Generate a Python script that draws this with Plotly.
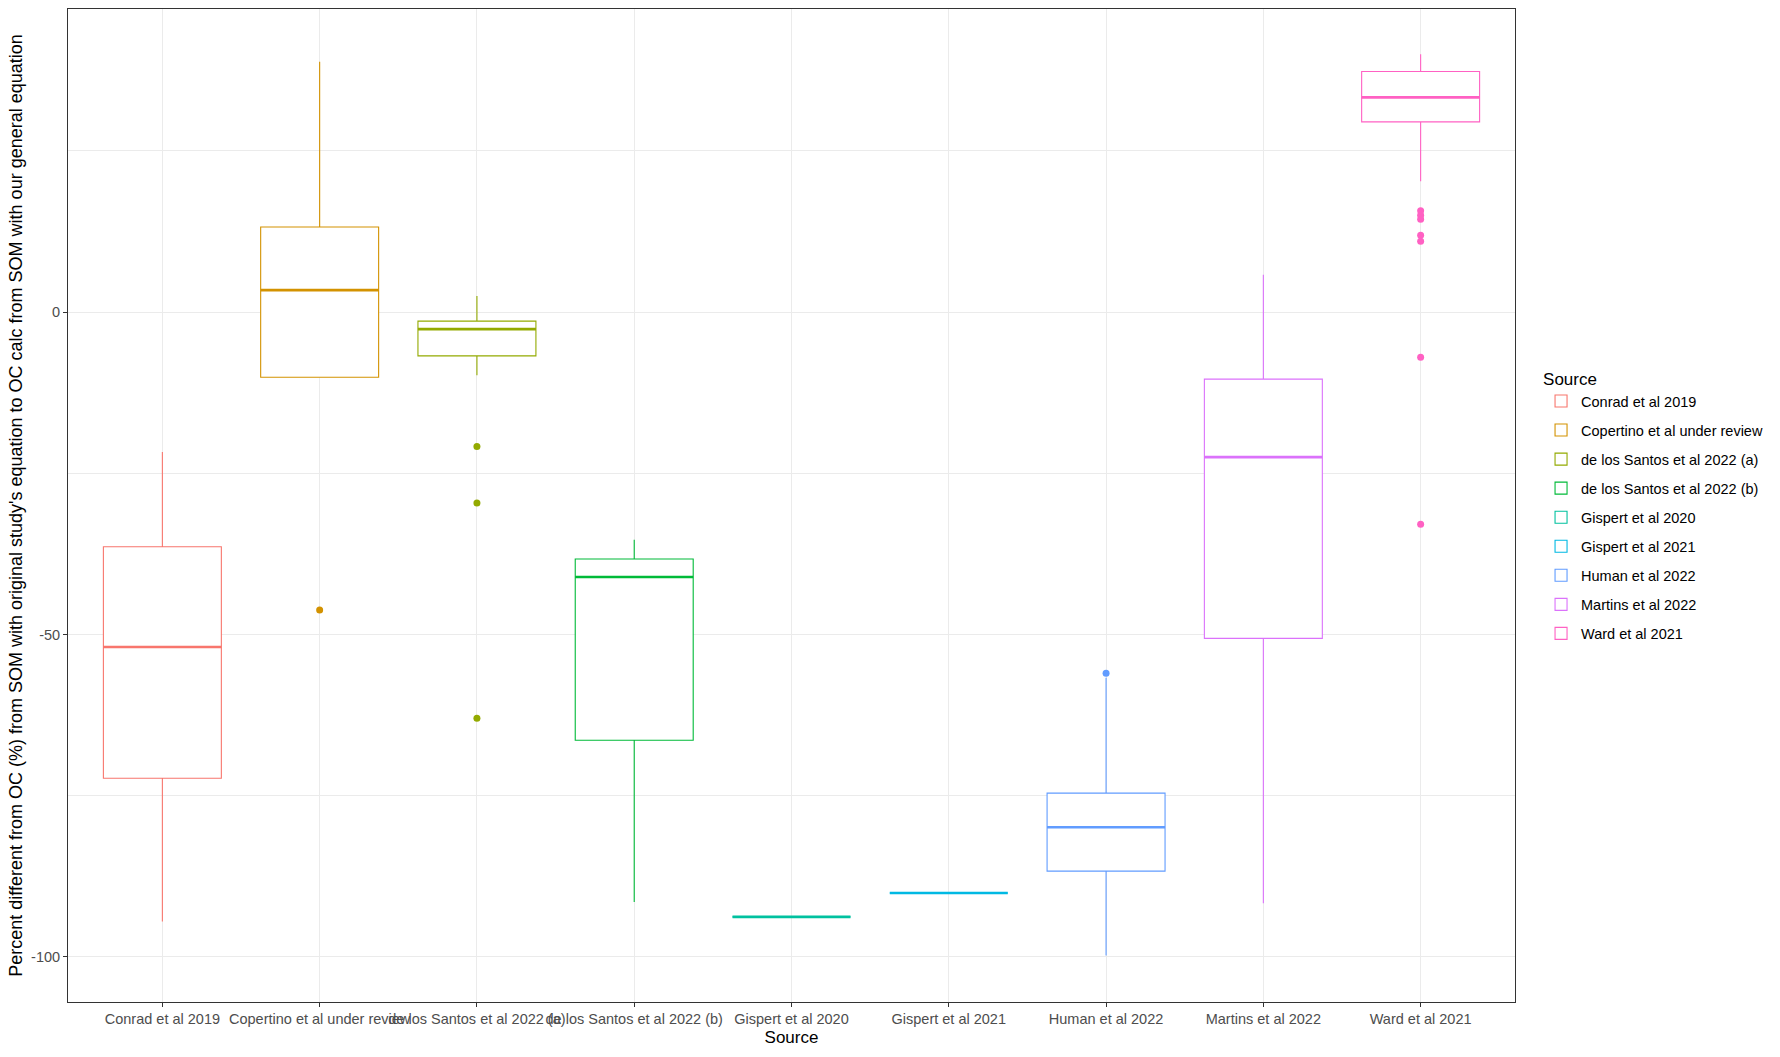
import plotly.graph_objects as go

sources = ["Conrad et al 2019", "Copertino et al under review", "de los Santos et al 2022 (a)",
           "de los Santos et al 2022 (b)", "Gispert et al 2020", "Gispert et al 2021",
           "Human et al 2022", "Martins et al 2022", "Ward et al 2021"]
colors = ["#F8766D", "#D39200", "#93AA00", "#00BA38", "#00C19F", "#00B9E3", "#619CFF", "#DB72FB", "#FF61C3"]

q1 = [-72.3, -10.1, -6.8, -66.4, -93.8, -90.1, -86.7, -50.6, 29.5]
medians = [-51.95, 3.4, -2.65, -41.1, -93.8, -90.1, -79.9, -22.5, 33.3]
q3 = [-36.4, 13.2, -1.4, -38.3, -93.8, -90.1, -74.6, -10.4, 37.3]
lower_whisker = [-94.5, -10.1, -9.8, -91.5, -93.8, -90.1, -99.8, -91.7, 20.3]
upper_whisker = [-21.7, 38.8, 2.5, -35.3, -93.8, -90.1, -56.7, 5.8, 40.0]

outliers = {
    "Copertino et al under review": [-46.2],
    "de los Santos et al 2022 (a)": [-20.85, -29.6, -63.0],
    "Human et al 2022": [-56.0],
    "Ward et al 2021": [15.7, 15.0, 14.4, 11.9, 11.0, -7.0, -32.9],
}

y_ticks = [0, -50, -100]

fig = go.Figure()
for i, s in enumerate(sources):
    fig.add_trace(go.Box(
        x=[s], q1=[q1[i]], median=[medians[i]], q3=[q3[i]],
        lowerfence=[lower_whisker[i]], upperfence=[upper_whisker[i]],
        name=s, legendgroup=s, boxpoints=False, whiskerwidth=0, width=0.75,
        line=dict(color=colors[i], width=1.1), fillcolor="white",
    ))
    # thick median line (ggplot fatten)
    fig.add_trace(go.Box(
        x=[s], q1=[medians[i]], median=[medians[i]], q3=[medians[i]],
        lowerfence=[medians[i]], upperfence=[medians[i]],
        name=s, legendgroup=s, showlegend=False, boxpoints=False, whiskerwidth=0, width=0.75,
        line=dict(color=colors[i], width=2.6), fillcolor="rgba(0,0,0,0)", hoverinfo="skip",
    ))
    if s in outliers:
        fig.add_trace(go.Scatter(
            x=[s] * len(outliers[s]), y=outliers[s], mode="markers",
            marker=dict(color=colors[i], size=7), showlegend=False, legendgroup=s,
        ))

fig.update_layout(
    width=1780, height=1057,
    margin=dict(l=68, r=265, t=9, b=55),
    plot_bgcolor="white", paper_bgcolor="white",
    boxmode="overlay",
    font=dict(family="Liberation Sans, Arial", color="black"),
    legend=dict(
        title=dict(text="Source", font=dict(size=17, color="black")),
        font=dict(size=14.5, color="black"),
        x=1.018, xanchor="left", y=0.499, yanchor="middle",
        tracegroupgap=7.2, bgcolor="rgba(0,0,0,0)",
    ),
    xaxis=dict(
        categoryorder="array", categoryarray=sources,
        range=[-0.6, 8.6],
        title=dict(text="Source", font=dict(size=17, color="black"), standoff=4),
        tickangle=0, tickfont=dict(size=14.5, color="#4D4D4D"),
        showgrid=True, gridcolor="#EBEBEB", gridwidth=1,
        showline=True, linecolor="#333333", linewidth=1, mirror=True,
        ticks="outside", ticklen=4, tickcolor="#333333",
        zeroline=False,
    ),
    yaxis=dict(
        range=[-107, 47],
        tickvals=y_ticks, ticktext=[str(v) for v in y_ticks],
        title=dict(text="Percent different from OC (%) from SOM with original study's equation to OC calc from SOM with our general equation",
                   font=dict(size=18, color="black"), standoff=3),
        tickfont=dict(size=14.5, color="#4D4D4D"),
        showgrid=True, gridcolor="#EBEBEB", gridwidth=1,
        minor=dict(tickvals=[25, -25, -75], showgrid=True, gridcolor="#EBEBEB", gridwidth=0.8, ticks=""),
        showline=True, linecolor="#333333", linewidth=1, mirror=True,
        ticks="outside", ticklen=4, tickcolor="#333333",
        zeroline=False,
    ),
)

fig.write_html("out.html")
